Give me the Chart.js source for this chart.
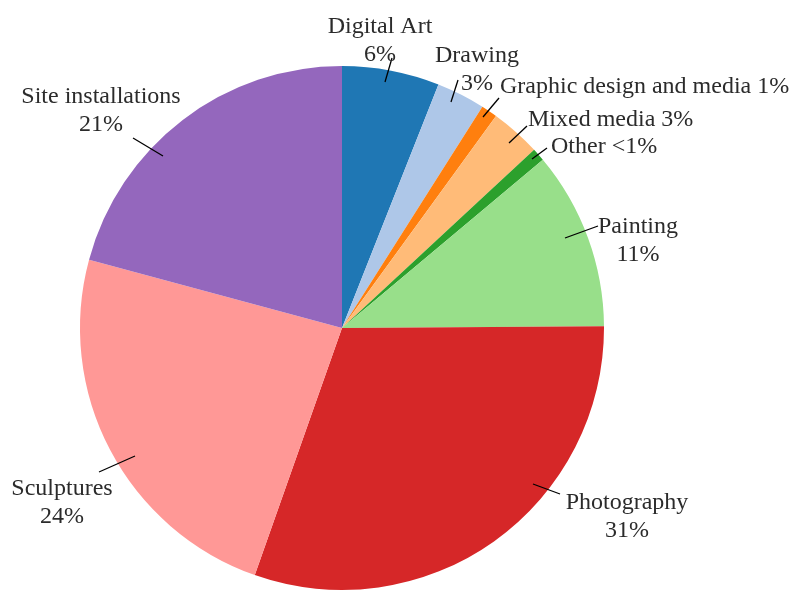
<!DOCTYPE html>
<html>
<head>
<meta charset="utf-8">
<script src="https://cdn.jsdelivr.net/npm/chart.js@4/dist/chart.umd.min.js"></script>
<style>
  body { margin: 0; background: #fff; }
</style>
</head>
<body>
<canvas id="pie-chart" width="792" height="595"></canvas>
<script>
const ctx = document.getElementById("pie-chart");

const categories = ['Digital Art', 'Drawing', 'Graphic design and media', 'Mixed media', 'Other',
                    'Painting', 'Photography', 'Sculptures', 'Site installations'];
const shares = [6.0, 3.0, 1.0, 3.1, 0.8, 11.0, 30.5, 23.8, 20.8];
const colors = ['#1f77b4', '#aec7e8', '#ff7f0e', '#ffbb78', '#2ca02c',
                '#98df8a', '#d62728', '#ff9896', '#9467bd'];

// label placement, offsets from the pie centre
// inline = name and percent on one line (left aligned), otherwise two centred lines
// line = leader line [outer end, end inside the slice]
const labelLayout = [
    { x: 38,   y: -295, line: [[50, -270], [43, -246]] },
    { x: 135,  y: -266, line: [[116, -248], [109, -226]] },
    { x: 158,  y: -235, inline: true, line: [[157, -230], [141, -211]] },
    { x: 186,  y: -202, inline: true, line: [[185, -202], [167, -185]] },
    { x: 209,  y: -175, inline: true, line: [[205, -180], [190, -169]] },
    { x: 296,  y: -95,  line: [[256, -102], [223, -90]] },
    { x: 285,  y: 181,  line: [[218, 166], [191, 156]] },
    { x: -280, y: 167,  line: [[-243, 144], [-207, 128]] },
    { x: -241, y: -225, line: [[-209, -190], [-179, -172]] }
];

function pctText(v) {
    return v < 1 ? '<1%' : Math.round(v) + '%';
}

const pieLabels = {
    id: 'pieLabels',
    afterDraw(chart) {
        const c = chart.ctx;
        const arcs = chart.getDatasetMeta(0).data;
        c.save();
        c.font = '24px "Liberation Serif", "Times New Roman", serif';
        c.fillStyle = '#2b2b2b';
        c.strokeStyle = '#000000';
        c.lineWidth = 1.3;
        c.textBaseline = 'alphabetic';
        arcs.forEach((arc, i) => {
            const lay = labelLayout[i];
            const cx = arc.x, cy = arc.y;
            // leader line
            c.beginPath();
            c.moveTo(cx + lay.line[0][0], cy + lay.line[0][1]);
            c.lineTo(cx + lay.line[1][0], cy + lay.line[1][1]);
            c.stroke();
            // text
            if (lay.inline) {
                c.textAlign = 'left';
                c.fillText(categories[i] + ' ' + pctText(shares[i]), cx + lay.x, cy + lay.y);
            } else {
                c.textAlign = 'center';
                c.fillText(categories[i], cx + lay.x, cy + lay.y);
                c.fillText(pctText(shares[i]), cx + lay.x, cy + lay.y + 28);
            }
        });
        c.restore();
    }
};

const chart = new Chart(ctx, {
    type: 'pie',
    data: {
        labels: categories,
        datasets: [{
            data: shares,
            backgroundColor: colors,
            borderWidth: 0
        }]
    },
    options: {
        responsive: false,
        animation: false,
        layout: {
            padding: { top: 66, bottom: 5, left: 80, right: 188 }
        },
        plugins: {
            legend: { display: false },
            tooltip: { enabled: false }
        }
    },
    plugins: [pieLabels]
});
</script>
</body>
</html>
